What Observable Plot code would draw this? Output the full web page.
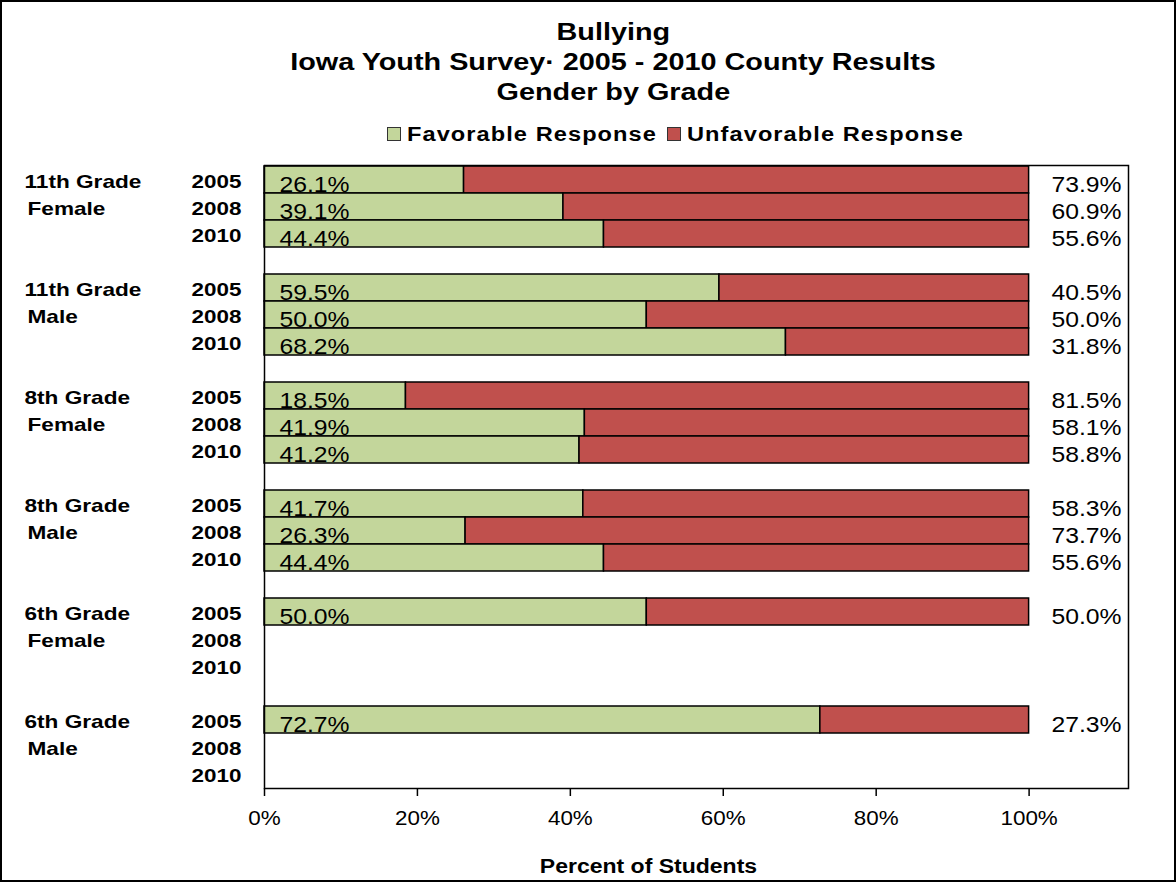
<!DOCTYPE html>
<html><head><meta charset="utf-8">
<script src="https://cdn.jsdelivr.net/npm/d3@7"></script>
<script src="https://cdn.jsdelivr.net/npm/@observablehq/plot@0.6"></script>
<style>
body{margin:0;background:#fff;}
#fig{position:relative;width:1176px;height:882px;background:#fff;font-family:"Liberation Sans",Arial,sans-serif;color:#000;overflow:hidden;}
#border{position:absolute;left:0;top:0;width:1176px;height:882px;box-sizing:border-box;border:2px solid #000;pointer-events:none;}
.title{position:absolute;left:113px;width:1000px;top:17px;text-align:center;font-weight:bold;font-size:24px;line-height:30px;}
.title span{display:inline-block;transform:scaleX(1.2);white-space:pre;}
.leg{position:absolute;top:122px;font-weight:bold;font-size:20px;line-height:24px;display:flex;align-items:center;white-space:pre;}
.leg .sw{width:12px;height:12px;border:1.5px solid #333;margin-right:6px;flex:none;}
.leg .lab{display:inline-block;transform:scaleX(1.18);transform-origin:left center;letter-spacing:0.9px;}
.cap{position:absolute;left:448px;width:400px;text-align:center;top:854px;font-weight:bold;font-size:20px;line-height:24px;}
.cap span{display:inline-block;transform:scaleX(1.15);white-space:pre;}
#chart{position:absolute;left:0;top:150px;}
</style>
</head>
<body>
<div id="fig">
  <div class="title" id="title"></div>
  <div id="legend"></div>
  <div id="chart"></div>
  <div class="cap" id="cap"></div>
  <div id="border"></div>
</div>
<script>
// ---- data ----
const titleLines = ["Bullying", "Iowa Youth Survey\u00B7 2005 - 2010 County Results", "Gender by Grade"];
const xLabel = "Percent of Students";
const grades = ["11th Grade", "11th Grade", "8th Grade", "8th Grade", "6th Grade", "6th Grade"];
const genders = ["Female", "Male", "Female", "Male", "Female", "Male"];
const years = ["2005", "2008", "2010"];
const series = ["Favorable Response", "Unfavorable Response"];
const seriesColors = ["#C3D69B", "#C0504D"];
const favorable = [
  [26.1, 39.1, 44.4],
  [59.5, 50.0, 68.2],
  [18.5, 41.9, 41.2],
  [41.7, 26.3, 44.4],
  [50.0, null, null],
  [72.7, null, null]
];
const unfavorable = [
  [73.9, 60.9, 55.6],
  [40.5, 50.0, 31.8],
  [81.5, 58.1, 58.8],
  [58.3, 73.7, 55.6],
  [50.0, null, null],
  [27.3, null, null]
];
const xTicks = [0, 20, 40, 60, 80, 100];

// ---- derived tables ----
const slots = [];
const yearSlots = [];
grades.forEach((g, i) => {
  years.forEach(y => { slots.push(`${i}|${y}`); yearSlots.push(`${i}|${y}`); });
  if (i < grades.length - 1) slots.push(`${i}|gap`);
});
const rows = [];
const valueRows = [];
grades.forEach((g, i) => {
  years.forEach((y, j) => {
    const f = favorable[i][j], u = unfavorable[i][j];
    if (f == null) return;
    const slot = `${i}|${y}`;
    rows.push({slot, series: series[0], value: f});
    rows.push({slot, series: series[1], value: u});
    valueRows.push({slot, fav: f, unfav: u});
  });
});
const gradeRows = grades.map((g, i) => ({slot: `${i}|${years[0]}`, text: g}));
const genderRows = genders.map((g, i) => ({slot: `${i}|${years[1]}`, text: g}));

// ---- title / legend / caption ----
const titleEl = document.getElementById("title");
titleLines.forEach(t => {
  const d = document.createElement("div");
  const s = document.createElement("span");
  s.textContent = t;
  d.appendChild(s);
  titleEl.appendChild(d);
});
const legendEl = document.getElementById("legend");
let legX = 387;
series.forEach((name, i) => {
  const item = document.createElement("div");
  item.className = "leg";
  item.style.left = legX + "px";
  const sw = document.createElement("span");
  sw.className = "sw";
  sw.style.background = seriesColors[i];
  const lab = document.createElement("span");
  lab.className = "lab";
  lab.textContent = name;
  item.appendChild(sw);
  item.appendChild(lab);
  legendEl.appendChild(item);
  const r = lab.getBoundingClientRect();
  legX = r.right + 10;
});
const capSpan = document.createElement("span");
capSpan.textContent = xLabel;
document.getElementById("cap").appendChild(capSpan);

// ---- chart ----
const font = "'Liberation Sans', Arial, sans-serif";
const chart = Plot.plot({
  width: 1176,
  height: 732,
  marginTop: 15,
  marginBottom: 94,
  marginLeft: 264,
  marginRight: 48,
  style: {fontFamily: font, color: "#000", background: "transparent", overflow: "visible"},
  x: {domain: [0, 113], axis: null},
  y: {domain: slots, padding: 0, axis: null},
  color: {domain: series, range: seriesColors},
  marks: [
    Plot.barX(rows, {x: "value", y: "slot", fill: "series", stroke: "#000", strokeWidth: 1.5}),
    Plot.frame({stroke: "#000", strokeWidth: 1.5}),
    Plot.axisX({ticks: xTicks, tickFormat: d => d + "%", tickSize: 8, tickPadding: 14, fontSize: 20, label: null, strokeWidth: 1.5}),
    Plot.axisY({ticks: yearSlots, tickFormat: s => s.split("|")[1], tickSize: 0, tickPadding: 23, fontSize: 19, fontWeight: "bold", dy: 2, label: null}),
    Plot.text(gradeRows, {y: "slot", text: "text", frameAnchor: "left", dx: -240, dy: 2, textAnchor: "start", fontSize: 19, fontWeight: "bold"}),
    Plot.text(genderRows, {y: "slot", text: "text", frameAnchor: "left", dx: -237, dy: 2, textAnchor: "start", fontSize: 19, fontWeight: "bold"}),
    Plot.text(valueRows, {x: 0, y: "slot", text: d => d.fav.toFixed(1) + "%", textAnchor: "start", dx: 15, dy: 5, fontSize: 21.5}),
    Plot.text(valueRows, {y: "slot", frameAnchor: "right", text: d => d.unfav.toFixed(1) + "%", textAnchor: "end", dx: -7, dy: 5, fontSize: 21.5})
  ]
});
document.getElementById("chart").appendChild(chart);

function stretchEls(els, k) {
  els.forEach(t => {
    const w = t.getComputedTextLength();
    if (w > 0) {
      t.setAttribute("textLength", (w * k).toFixed(1));
      t.setAttribute("lengthAdjust", "spacingAndGlyphs");
    }
  });
}
stretchEls(chart.querySelectorAll('g[aria-label="y-axis tick label"] text'), 1.18);
stretchEls(chart.querySelectorAll('g[aria-label="x-axis tick label"] text'), 1.12);
const textGroups = chart.querySelectorAll('g[aria-label="text"]');
textGroups.forEach((g, i) => {
  stretchEls(g.querySelectorAll("text"), i < 2 ? 1.19 : 1.15);
});
</script>
</body></html>
